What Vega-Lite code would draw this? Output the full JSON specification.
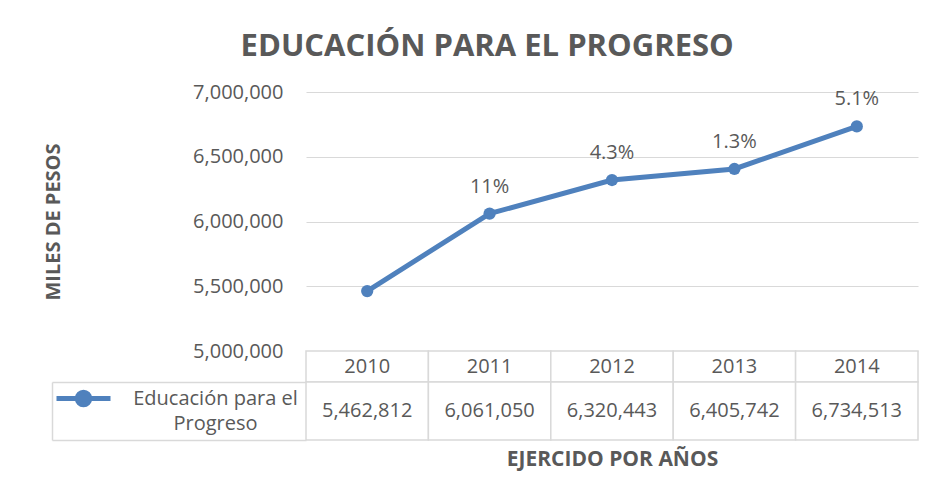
{
  "$schema": "https://vega.github.io/schema/vega-lite/v6.json",
  "padding": {"left": 43, "top": 31, "right": 20, "bottom": 10},
  "background": "white",
  "config": {"view": {"stroke": null}, "font": "Open Sans"},
  "title": {"text": "EDUCACIÓN PARA EL PROGRESO", "anchor": "middle", "fontSize": 31, "font": "Open Sans", "fontWeight": "bold", "color": "#595959", "offset": 19, "dx": 6},
  "datasets": {
    "d": [
      {"year": "2010", "value": 5462812, "pct": "", "serie": "Educación para el Progreso"},
      {"year": "2011", "value": 6061050, "pct": "11%", "serie": "Educación para el Progreso"},
      {"year": "2012", "value": 6320443, "pct": "4.3%", "serie": "Educación para el Progreso"},
      {"year": "2013", "value": 6405742, "pct": "1.3%", "serie": "Educación para el Progreso"},
      {"year": "2014", "value": 6734513, "pct": "5.1%", "serie": "Educación para el Progreso"}
    ]
  },
  "bounds": "flush",
  "spacing": 0,
  "vconcat": [
    {
      "width": 612,
      "height": 259,
      "data": {"name": "d"},
      "encoding": {
        "x": {"field": "year", "type": "ordinal", "axis": null, "scale": {"type": "point", "padding": 0.5}},
        "y": {
          "field": "value", "type": "quantitative",
          "scale": {"domain": [5000000, 7000000], "nice": false, "zero": false},
          "axis": {
            "values": [5000000, 5500000, 6000000, 6500000, 7000000],
            "format": ",.0f", "grid": true, "gridColor": "#D9D9D9", "gridWidth": 1.2,
            "domain": false, "ticks": false, "labelPadding": 23,
            "labelFontSize": 20, "labelColor": "#595959", "labelFont": "Open Sans",
            "title": "MILES DE PESOS", "titleFontSize": 20, "titleFont": "Open Sans",
            "titleFontWeight": "bold", "titleColor": "#595959", "titlePadding": 129
          }
        }
      },
      "layer": [
        {
          "mark": {"type": "line", "strokeWidth": 5},
          "encoding": {
            "color": {
              "field": "serie", "type": "nominal",
              "scale": {"range": ["#4F81BD"]},
              "legend": {
                "orient": "none", "legendX": -252, "legendY": 277, "title": null, "padding": 0,
                "symbolType": "M-1,0H1M-0.23,0A0.23,0.23,0,1,1,0.23,0A0.23,0.23,0,1,1,-0.23,0Z",
                "symbolSize": 2916, "symbolStrokeWidth": 5,
                "symbolFillColor": "#4F81BD", "symbolStrokeColor": "#4F81BD",
                "labelExpr": "''"
              }
            }
          }
        },
        {"mark": {"type": "point", "filled": true, "size": 150, "opacity": 1, "color": "#4F81BD"}},
        {
          "mark": {"type": "text", "dy": -27, "fontSize": 20, "font": "Open Sans", "color": "#595959"},
          "encoding": {"text": {"field": "pct"}}
        }
      ]
    },
    {
      "width": 612,
      "height": 31,
      "data": {"name": "d"},
      "encoding": {
        "x": {"field": "year", "type": "ordinal", "axis": null, "scale": {"type": "band", "paddingInner": 0, "paddingOuter": 0}}
      },
      "layer": [
        {"mark": {"type": "rect", "fill": "white", "stroke": "#D9D9D9", "strokeWidth": 1.5}},
        {
          "mark": {"type": "text", "fontSize": 20, "font": "Open Sans", "color": "#595959"},
          "encoding": {"text": {"field": "year"}}
        }
      ]
    },
    {
      "width": 612,
      "height": 58,
      "data": {"name": "d"},
      "encoding": {
        "x": {
          "field": "year", "type": "ordinal",
          "scale": {"type": "band", "paddingInner": 0, "paddingOuter": 0},
          "axis": {"labels": false, "ticks": false, "domain": false, "title": "EJERCIDO POR AÑOS", "titleFontSize": 21, "titleFont": "Open Sans", "titleFontWeight": "bold", "titleColor": "#595959", "titlePadding": 8}
        },
        "y": {
          "field": "serie", "type": "nominal",
          "scale": {"type": "band", "paddingInner": 0, "paddingOuter": 0},
          "axis": {
            "title": null, "offset": 254, "domain": true, "domainColor": "#D9D9D9", "domainWidth": 1.5,
            "ticks": true, "tickBand": "extent", "tickSize": -254, "tickColor": "#D9D9D9", "tickWidth": 1.5,
            "labelAlign": "center", "labelBaseline": "middle", "labelPadding": 91, "labelLimit": 0, "labelOffset": -13,
            "labelFontSize": 20, "labelColor": "#595959", "labelFont": "Open Sans", "labelLineHeight": 25,
            "labelExpr": "split(replace(datum.label, 'el P', 'el|P'), '|')"
          }
        }
      },
      "layer": [
        {"mark": {"type": "rect", "fill": "white", "stroke": "#D9D9D9", "strokeWidth": 1.5}},
        {
          "mark": {"type": "text", "fontSize": 20, "font": "Open Sans", "color": "#595959"},
          "encoding": {"text": {"field": "value", "format": ","}}
        }
      ]
    }
  ]
}
